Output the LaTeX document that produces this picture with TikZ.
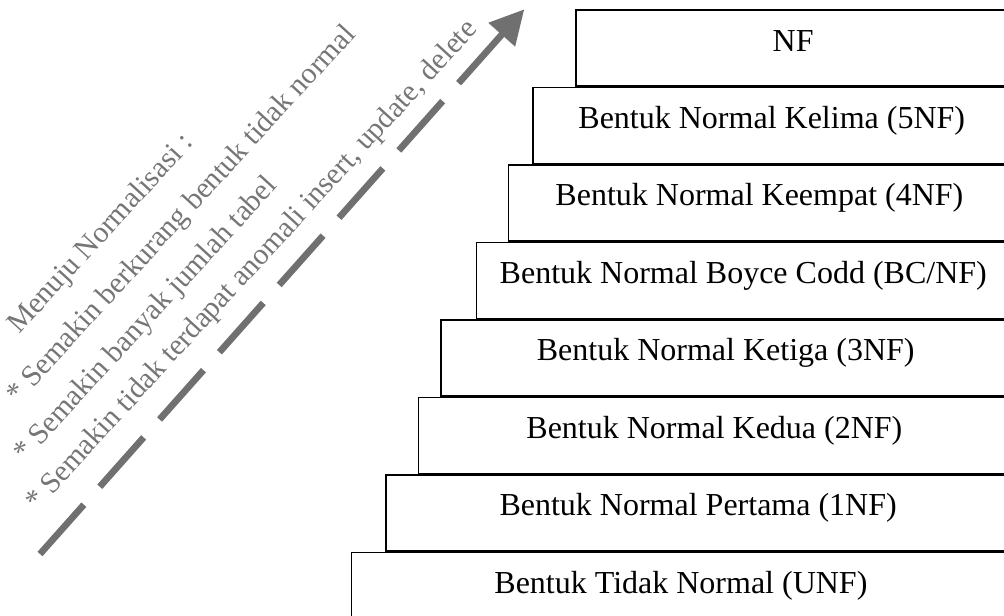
\documentclass[tikz,border=0pt]{standalone}
\usepackage{fontspec}
\setmainfont{Liberation Serif}
\usetikzlibrary{arrows.meta}
\definecolor{arrowgray}{RGB}{112,112,112}
\definecolor{notegray}{RGB}{118,118,118}
\tikzset{
  stepbox/.style={draw, line width=1.1pt, anchor=north east, minimum height=57pt, inner sep=0pt,
    text height=10pt, text depth=5.5pt, font=\fontsize{24}{28}\selectfont},
  note/.style={anchor=base west, rotate=47.5, inner sep=0pt, text=notegray, font=\fontsize{22.3}{26}\selectfont},
  longarrow/.style={draw=arrowgray, line width=5pt, dash pattern=on 49.5pt off 18pt,
    -{Triangle[length=25.5pt,width=25.5pt]}}
}
\begin{document}
\begin{tikzpicture}[x=0.75pt, y=-0.75pt]
    \clip (0,0) rectangle (1004,615);
    \node[stepbox, minimum width=325.7pt] (nf) at (1011,9.3) {NF};
    \node[stepbox, minimum width=357.8pt] (k5) at (nf.south east) {Bentuk Normal Kelima (5NF)};
    \node[stepbox, minimum width=376.3pt] (k4) at (k5.south east) {Bentuk Normal Keempat (4NF)};
    \node[stepbox, minimum width=400.5pt] (bcnf) at (k4.south east) {Bentuk Normal Boyce Codd (BC/NF)};
    \node[stepbox, minimum width=426.8pt] (k3) at (bcnf.south east) {Bentuk Normal Ketiga (3NF)};
    \node[stepbox, minimum width=443.8pt] (k2) at (k3.south east) {Bentuk Normal Kedua (2NF)};
    \node[stepbox, minimum width=468.2pt] (k1) at (k2.south east) {Bentuk Normal Pertama (1NF)};
    \node[stepbox, minimum width=494pt] (unf) at (k1.south east) {Bentuk Tidak Normal (UNF)};

    \node[note] (menuju) at (19,335) {Menuju Normalisasi :};
    \node[note] (kurang) at (18,405) {* Semakin berkurang bentuk tidak normal};
    \node[note] (banyak) at (25,463) {* Semakin banyak jumlah tabel};
    \node[note] (anomali) at (37,512) {* Semakin tidak terdapat anomali insert, update, delete};

    \coordinate (tail) at (40,554);
    \coordinate (tip) at (524.3,9.3);
    \draw[longarrow] (tail) -- (tip);
\end{tikzpicture}
\end{document}
